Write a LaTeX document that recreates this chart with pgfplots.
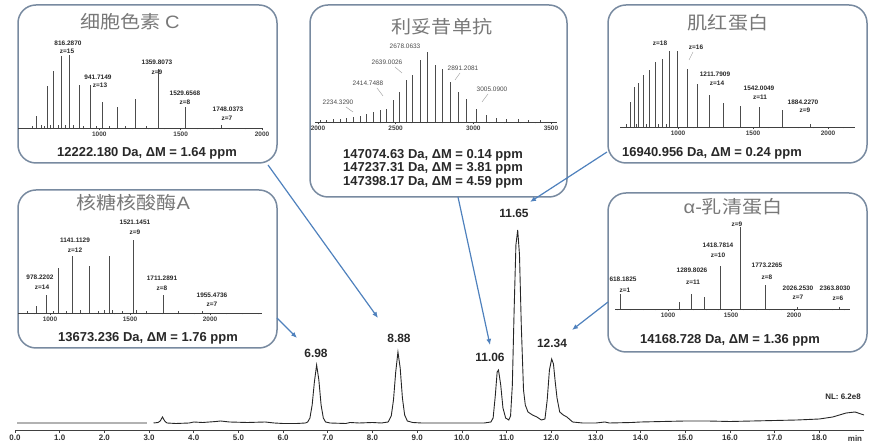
\documentclass[border=0pt]{standalone}
\usepackage{pgfplots}
\pgfplotsset{compat=1.18}
\usepackage{fontspec}
\usepackage{graphicx}
\setmainfont{Liberation Sans}
\newfontfamily\cjk{Noto Sans CJK SC}
\definecolor{boxc}{RGB}{120,138,160}
\definecolor{arrc}{RGB}{79,129,189}
\definecolor{titc}{RGB}{120,120,120}
\definecolor{txt}{RGB}{40,40,40}
\newcommand{\fs}[1]{\fontsize{#1}{#1}\selectfont}
\pgfplotsset{
  spec/.style={scale only axis, axis x line=bottom, axis y line=none, ymin=0, clip=false,
    x axis line style={-, line width=0.6bp, black!75},
    tick style={black!75, line width=0.5bp},
    major tick length=2.5bp, minor tick length=1.5bp, tick align=outside,
    xticklabel style={font=\fs{6.5}\bfseries, text=black!75, inner sep=1.5bp},
    /pgf/number format/assume math mode=true, /pgf/number format/1000 sep={}},
  stick/.style={ycomb, no marks, line width=0.55bp, black!70}
}
\tikzset{
  lab/.style={font=\fs{6.5}\bfseries, text=txt, inner sep=0pt},
  labr/.style={font=\fs{6.5}, text=black!70, inner sep=0pt},
  bot/.style={font=\fs{13}\bfseries, text=txt, inner sep=0pt},
  box/.style={rounded corners=18bp, line width=1.5bp, draw=boxc, fill=white},
  arr/.style={draw=arrc, line width=1.2bp, -{Latex[length=6bp,width=5bp]}},
  ttl/.style={text=titc, inner sep=0pt},
  pk/.style={font=\fs{12}\bfseries, text=txt, inner sep=0pt}
}
\usetikzlibrary{arrows.meta}
\begin{document}
\begin{tikzpicture}[x=1bp,y=1bp]
\path[use as bounding box] (0,0) rectangle (880,448);

% ---------- main chromatogram ----------
\begin{axis}[at={(15bp,18bp)}, anchor=south west, scale only axis, width=849bp, height=260bp,
  xmin=0, xmax=19, ymin=0, ymax=260, axis x line=bottom, axis y line=none, clip=false,
  x axis line style={-, line width=0.6bp, black!75},
  tick style={black!75, line width=0.6bp}, major tick length=3bp, tick align=outside,
  xtick={0,...,18},
  xticklabels={0.0,1.0,2.0,3.0,4.0,5.0,6.0,7.0,8.0,9.0,10.0,11.0,12.0,13.0,14.0,15.0,16.0,17.0,18.0},
  xticklabel style={font=\fs{8}\bfseries, text=black!80, inner sep=1.5bp}]
\addplot[gray!60, line width=2bp] coordinates {(0.05,7) (2.95,7)};
\addplot[black!85, line width=0.9bp] coordinates {
(3.10,7) (3.20,7.5) (3.25,9) (3.30,13) (3.35,9) (3.40,7) (3.60,6.5) (3.90,7) (4.00,8)
(4.20,7.5) (4.50,8.5) (4.60,9) (4.80,8) (5.20,7.5) (5.60,8) (5.80,7) (6.00,6.5) (6.30,6.5)
(6.50,7) (6.55,8) (6.60,12) (6.65,25) (6.70,48) (6.75,65) (6.80,50) (6.85,25) (6.90,12)
(6.95,8) (7.05,7) (7.40,6.5) (7.50,7.5) (7.70,7) (8.00,7.5) (8.20,7) (8.35,8) (8.42,14)
(8.47,30) (8.52,58) (8.57,78) (8.62,62) (8.67,32) (8.72,15) (8.78,9) (8.90,7.5) (9.10,7)
(10.00,7) (10.50,7) (10.65,8) (10.70,12) (10.75,35) (10.79,58) (10.82,60) (10.87,45)
(10.92,22) (10.98,12) (11.05,10) (11.09,14) (11.13,45) (11.17,120) (11.21,185) (11.25,200)
(11.29,175) (11.33,105) (11.38,40) (11.42,25) (11.48,18) (11.58,15) (11.68,13) (11.78,10)
(11.86,11) (11.91,30) (11.96,60) (12.01,71) (12.05,66) (12.09,48) (12.13,32) (12.19,18)
(12.27,15) (12.35,13) (12.48,8) (12.70,7) (13.00,7) (13.20,8) (13.30,7) (13.80,7.5)
(14.00,8) (14.50,8.5) (15.00,9) (15.50,9) (16.00,8.5) (16.50,9) (17.00,9.5) (17.50,10)
(18.00,11) (18.30,13) (18.60,17) (18.80,18) (19.00,15)};
\end{axis}

% ---------- boxes ----------
\draw[box] (18,443) rectangle (277,285);
\draw[box] (310,443) rectangle (567,251);
\draw[box] (608,443) rectangle (867,285);
\draw[box] (18,258) rectangle (277,100);
\draw[box] (608,255) rectangle (867,96);

\node[pk] at (316,95) {6.98};
\node[pk] at (399,110) {8.88};
\node[pk] at (490,91) {11.06};
\node[pk] at (514,235) {11.65};
\node[pk] at (552,105) {12.34};
\node[font=\fs{8}\bfseries, text=txt, inner sep=0pt] at (843,51) {NL: 6.2e8};
\node[font=\fs{8}\bfseries, text=black!80, inner sep=0pt] at (855,9) {min};

% ---------- inset 1: cytochrome c ----------
\begin{axis}[spec, at={(18bp,320bp)}, anchor=south west, width=244bp, height=80bp,
  xmin=500, xmax=2000, ymax=80, xtick={1000,1500,2000}, minor xtick={500,600,...,2000}]
\addplot[stick] coordinates {(590,2) (611.6,12) (644.6,3) (660,2) (680.1,42) (700,3)
(719.7,57) (745,3) (764.9,72) (790,3) (816.3,73) (840,3) (873.9,43) (900,2) (941.7,43)
(980,2) (1019.5,26) (1060,2) (1112.1,21) (1160,2) (1223.2,29) (1290,2) (1359.8,59)
(1529.7,21) (1748.0,3)};
\end{axis}
\node[ttl] at (130,426) {\scalebox{1.12}[1]{\fs{18}\cjk 细胞色素 \normalfont C}};
\node[lab] at (68,405) {816.2870};
\node[lab] at (67,397) {z=15};
\node[lab] at (98,371) {941.7149};
\node[lab] at (100,363) {z=13};
\node[lab] at (157,386) {1359.8073};
\node[lab] at (157,376) {z=9};
\node[lab] at (185,355) {1529.6568};
\node[lab] at (185,346) {z=8};
\node[lab] at (228,339) {1748.0373};
\node[lab] at (227,330) {z=7};
\node[bot] at (147,295) {12222.180 Da, ΔM = 1.64 ppm};

% ---------- inset 2: rituximab ----------
\begin{axis}[spec, at={(315bp,326bp)}, anchor=south west, width=242bp, height=75bp,
  xmin=1981, xmax=3539, ymax=75, xtick={2000,2500,3000,3500}, minor xtick={2000,2100,...,3500}]
\addplot[stick] coordinates {(2013,2) (2056,2) (2099,3) (2142,3) (2185,4) (2227,5)
(2270,6) (2313,8) (2356,10) (2399,12) (2442,13) (2485,22) (2524,30) (2571,42) (2610,47)
(2657,62) (2704,70) (2753,57) (2803,53) (2850,40) (2903,30) (2957,23) (3022,13) (3086,7)
(3150,4) (3215,3) (3290,2.5) (3354,2) (3429,2)};
\end{axis}
\node[ttl] at (442,421) {\scalebox{1.12}[1]{\fs{18}\cjk 利妥昔单抗}};
\node[labr] at (338,346) {2234.3290};
\node[labr] at (368,365) {2414.7488};
\node[labr] at (387,386) {2639.0026};
\node[labr] at (405,402) {2678.0633};
\node[labr] at (463,380) {2891.2081};
\node[labr] at (492,359) {3005.0900};
\draw[black!40, line width=0.4bp] (346,341) -- (353,336);
\draw[black!40, line width=0.4bp] (377,360) -- (383,352);
\draw[black!40, line width=0.4bp] (395,381) -- (402,375);
\draw[black!40, line width=0.4bp] (460,375) -- (455,368);
\draw[black!40, line width=0.4bp] (488,354) -- (482,346);
\node[bot] at (433,293) {147074.63 Da, ΔM = 0.14 ppm};
\node[bot] at (433,280) {147237.31 Da, ΔM = 3.81 ppm};
\node[bot] at (433,266) {147398.17 Da, ΔM = 4.59 ppm};

% ---------- inset 3: myoglobin ----------
\begin{axis}[spec, at={(620bp,321bp)}, anchor=south west, width=235bp, height=80bp,
  xmin=613, xmax=2180, ymax=80, xtick={1000,1500,2000}, minor xtick={700,800,...,2100}]
\addplot[stick] coordinates {(652.6,3) (678.6,25) (706.9,40) (720,3) (737.6,44) (771.0,52)
(790,3) (807.7,57) (848.0,65) (870,3) (892.6,68) (920,3) (942.2,76) (997.5,76) (1059.8,58)
(1130.4,43) (1211.1,32) (1304.2,24) (1412.7,21) (1541.1,20) (1695.1,17) (1883.3,2.5)};
\end{axis}
\node[ttl] at (728,425) {\scalebox{1.12}[1]{\fs{18}\cjk 肌红蛋白}};
\node[lab] at (660,405) {z=18};
\node[lab] at (696,401) {z=16};
\draw[black!40, line width=0.4bp] (693,396) -- (689,388);
\node[lab] at (715,374) {1211.7909};
\node[lab] at (717,365) {z=14};
\node[lab] at (759,360) {1542.0049};
\node[lab] at (760,351) {z=11};
\node[lab] at (803,346) {1884.2270};
\node[lab] at (805,338) {z=9};
\node[bot] at (712,295) {16940.956 Da, ΔM = 0.24 ppm};

% ---------- inset 4: RNase A ----------
\begin{axis}[spec, at={(18bp,135bp)}, anchor=south west, width=244bp, height=80bp,
  xmin=800, xmax=2325, ymax=80, xtick={1000,1500,2000}, minor xtick={800,900,...,2300}]
\addplot[stick] coordinates {(855.6,2) (912.5,7) (977.7,18) (1020,2) (1052.8,45) (1100,2)
(1140.4,57) (1190,3) (1244.0,47) (1300,2) (1340,3) (1368.3,57) (1390,3) (1450,2)
(1520.3,73) (1540,3) (1600,2) (1710.2,18) (1800,2) (1954.3,2)};
\end{axis}
\node[ttl] at (133,245) {\scalebox{1.12}[1]{\fs{18}\cjk 核糖核酸酶\normalfont A}};
\node[lab] at (40,171) {978.2202};
\node[lab] at (42,161) {z=14};
\node[lab] at (75,208) {1141.1129};
\node[lab] at (75,198) {z=12};
\node[lab] at (135,226) {1521.1451};
\node[lab] at (135,216) {z=9};
\node[lab] at (162,170) {1711.2891};
\node[lab] at (162,160) {z=8};
\node[lab] at (212,153) {1955.4736};
\node[lab] at (212,144) {z=7};
\node[bot] at (148,110) {13673.236 Da, ΔM = 1.76 ppm};

% ---------- inset 5: alpha-lactalbumin ----------
\begin{axis}[spec, at={(615bp,139bp)}, anchor=south west, width=235bp, height=85bp,
  xmin=579, xmax=2445, ymax=85, xtick={1000,1500,2000}, minor xtick={600,700,...,2400}]
\addplot[stick] coordinates {(618.2,15) (1090.9,7) (1181.7,15) (1289.0,12) (1417.9,43)
(1575.3,82) (1772.1,24) (2025.0,2) (2362.5,1.5)};
\end{axis}
\node[ttl] at (733,241) {\scalebox{1.12}[1]{\fs{18}\normalfont α-\cjk 乳清蛋白}};
\node[lab] at (737,224) {z=9};
\node[lab] at (718,203) {1418.7814};
\node[lab] at (718,193) {z=10};
\node[lab] at (692,178) {1289.8026};
\node[lab] at (693,166) {z=11};
\node[lab] at (623,169) {618.1825};
\node[lab] at (625,158) {z=1};
\node[lab] at (767,183) {1773.2265};
\node[lab] at (767,171) {z=8};
\node[lab] at (798,160) {2026.2530};
\node[lab] at (798,151) {z=7};
\node[lab] at (835,160) {2363.8030};
\node[lab] at (838,150) {z=6};
\node[bot] at (730,108) {14168.728 Da, ΔM = 1.36 ppm};

% ---------- arrows ----------
\draw[arr] (268,283) -- (378,130);
\draw[arr] (277,130) -- (297,110);
\draw[arr] (458,251) -- (490,103);
\draw[arr] (607,296) -- (530,246);
\draw[arr] (608,146) -- (572,118);
\end{tikzpicture}
\end{document}
